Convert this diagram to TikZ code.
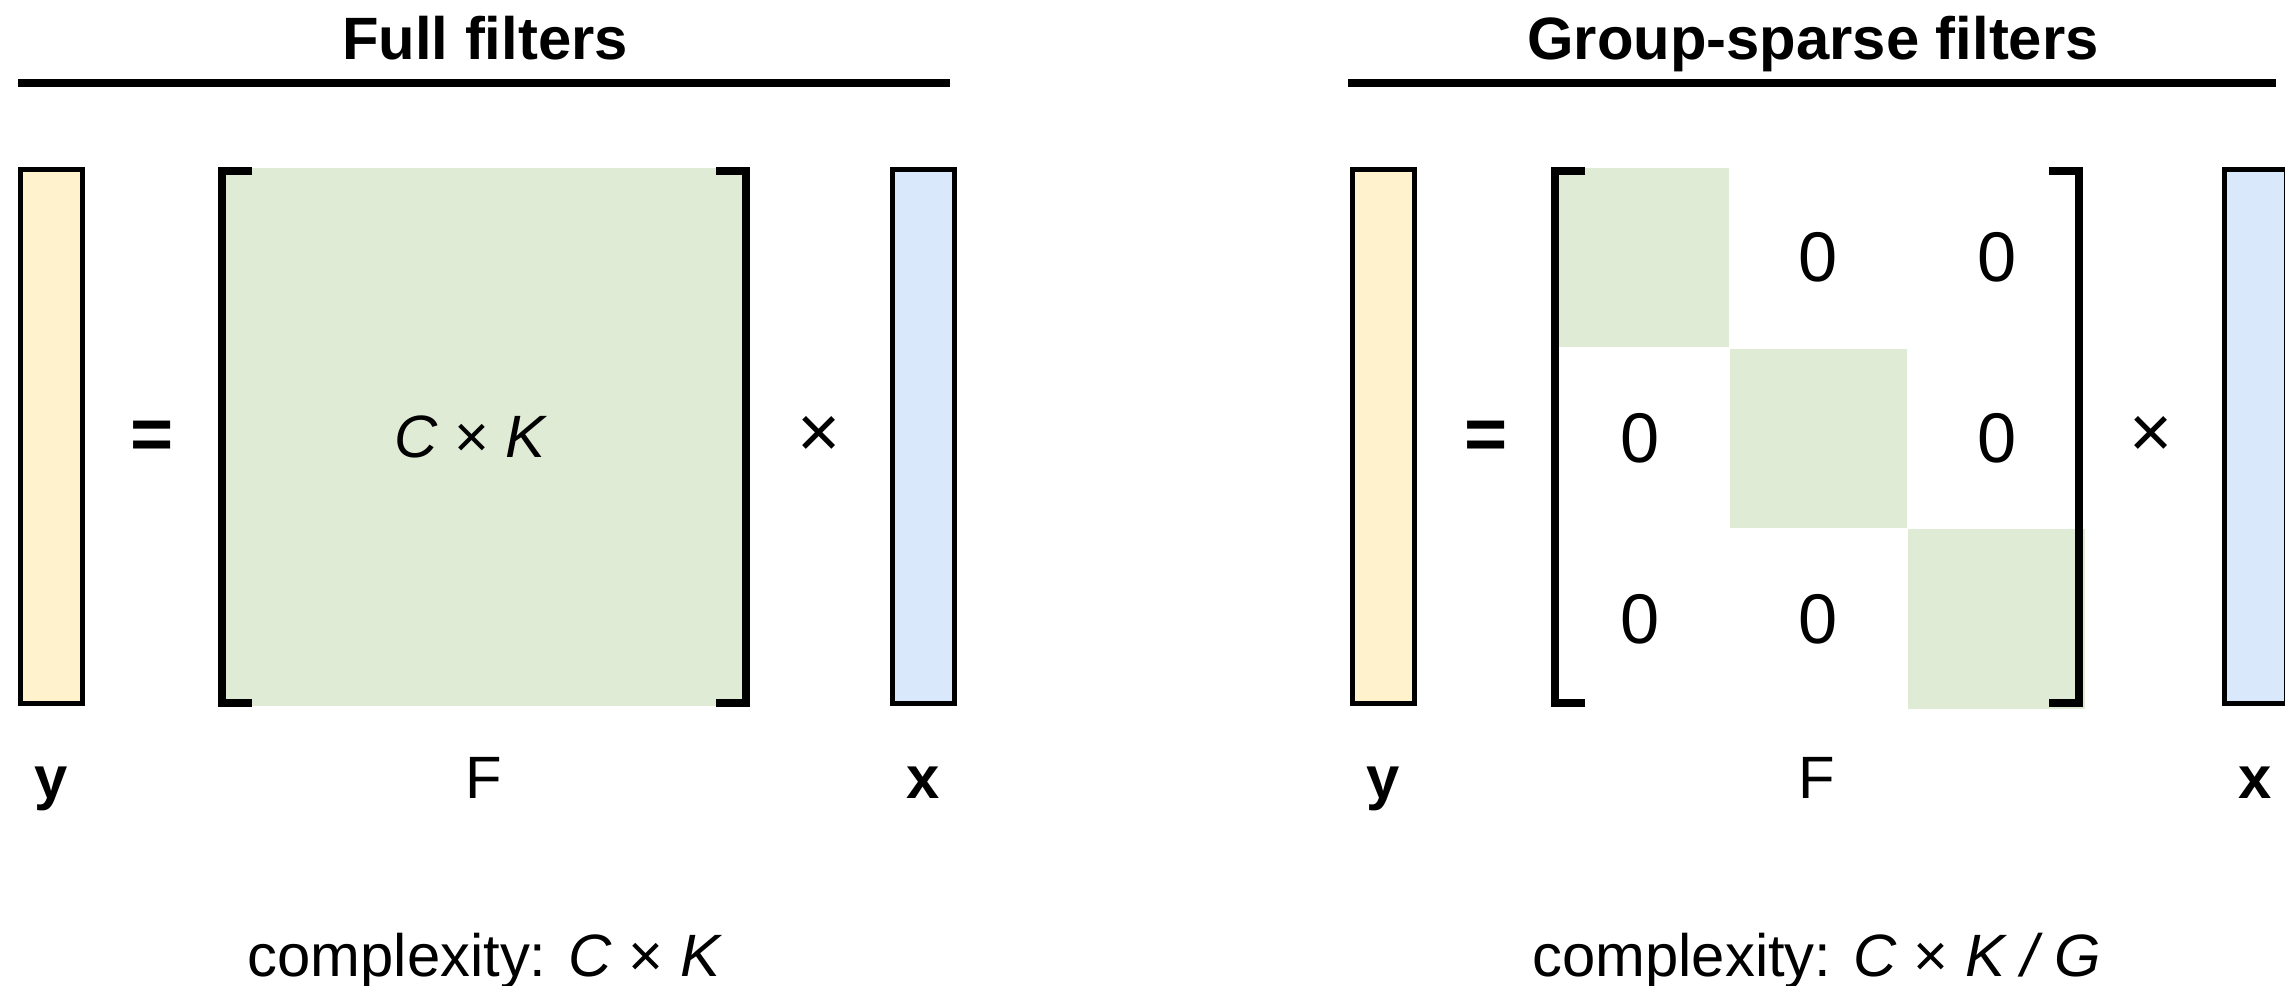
\documentclass[tikz,border=0pt]{standalone}
\usepackage{fontspec}
\setmainfont{Liberation Sans}
\usetikzlibrary{positioning}
\definecolor{vecyellow}{RGB}{255, 242, 204}
\definecolor{vecblue}{RGB}{218, 232, 252}
\definecolor{filtgreen}{RGB}{224, 235, 213}

\begin{document}
\begin{tikzpicture}[
    x=0.01cm, y=-0.01cm,
    vec/.style={rectangle, draw=black, line width=0.05cm, inner sep=0pt,
                minimum width=0.62cm, minimum height=5.34cm},
    filt/.style={rectangle, fill=filtgreen, inner sep=0pt,
                 minimum width=5.3cm, minimum height=5.38cm},
    blk/.style={rectangle, fill=filtgreen, inner sep=0pt,
                minimum width=1.767cm, minimum height=1.793cm},
    brak/.style={line width=0.08cm, line join=miter},
    hrule/.style={line width=0.08cm},
    title/.style={font=\fontsize{17}{20}\selectfont\bfseries, anchor=base},
    txt/.style={font=\fontsize{17}{20}\selectfont},
    lbl/.style={font=\fontsize{17}{20}\selectfont, anchor=base},
    zero/.style={font=\fontsize{20}{24}\selectfont},
    op/.style={font=\fontsize{21}{24}\selectfont}
  ]
    \useasboundingbox (0,0) rectangle (2285,986);

    % full filters
    \node[title] (tfull) at (485,60) {Full filters};
    \coordinate (rl1) at (18,83);
    \coordinate (rl2) at (950,83);
    \draw[hrule] (rl1) -- (rl2);

    \node[vec, fill=vecyellow] (ybl) at (51.5,436.5) {};
    \node[op] (eql) at (152,440) {\bfseries =};
    \node[filt] (ff) at (484,437) {};
    \node[txt] (ffdim) at ([shift={(-13,0)}]ff.center) {\textit{C} × \textit{K}};
    \node[op] (mull) at (819,437) {×};
    \node[vec, fill=vecblue] (xbl) at (923.5,436.5) {};

    \node[lbl] (lyl) at (51.5,799) {\bfseries y};
    \node[lbl] (lfl) at (484,799) {F};
    \node[lbl] (lxl) at (923.5,799) {\bfseries x};
    \node[lbl] (cpl) at (485,976) {complexity: \textit{C} × \textit{K}};

    % group-sparse filters
    \node[title] (tgrp) at (1813,60) {Group-sparse filters};
    \coordinate (rr1) at (1348,83);
    \coordinate (rr2) at (2276,83);
    \draw[hrule] (rr1) -- (rr2);

    \node[vec, fill=vecyellow] (ybr) at (1383.5,436.5) {};
    \node[op] (eqr) at (1486,440) {\bfseries =};
    \node[filt, fill=none] (fs) at (1817,437) {};
    \node[blk, anchor=north west] (b1) at (fs.north west) {};
    \node[blk, anchor=north west] (b2) at (b1.south east) {};
    \node[blk, anchor=north west] (b3) at (b2.south east) {};
    \node[zero] (z12) at (b2 |- b1) {0};
    \node[zero] (z13) at (b3 |- b1) {0};
    \node[zero] (z21) at (b1 |- b2) {0};
    \node[zero] (z23) at (b3 |- b2) {0};
    \node[zero] (z31) at (b1 |- b3) {0};
    \node[zero] (z32) at (b2 |- b3) {0};
    \node[op] (mulr) at (2151,437) {×};
    \node[vec, fill=vecblue] (xbr) at (2255.5,436.5) {};

    \node[lbl] (lyr) at (1383.5,799) {\bfseries y};
    \node[lbl] (lfr) at (1817,799) {F};
    \node[lbl] (lxr) at (2255.5,799) {\bfseries x};
    \node[lbl] (cpr) at (1817,976) {complexity: \textit{C} × \textit{K / G}};

    % brackets
    \foreach \m in {ff, fs} {
      \draw[brak] ([shift={(34,4)}]\m.north west) -- ([shift={(4,4)}]\m.north west)
        -- ([shift={(4,-4)}]\m.south west) -- ([shift={(34,-4)}]\m.south west);
      \draw[brak] ([shift={(-34,4)}]\m.north east) -- ([shift={(-4,4)}]\m.north east)
        -- ([shift={(-4,-4)}]\m.south east) -- ([shift={(-34,-4)}]\m.south east);
    }
  \end{tikzpicture}
\end{document}
